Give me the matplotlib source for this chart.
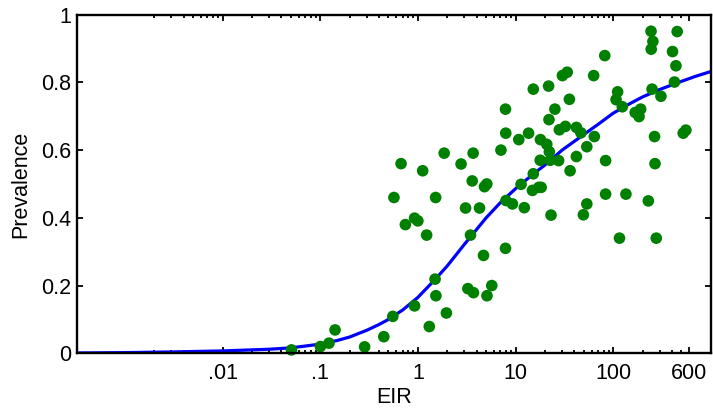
import numpy as np
import matplotlib
matplotlib.use("Agg")
import matplotlib.pyplot as plt

plt.rcParams.update({
    "font.family": ["Liberation Sans", "DejaVu Sans"],
    "font.size": 15.5,
})

# Field survey sites: annual EIR and parasite prevalence
eir = [
    0.0508, 0.1005, 0.123, 0.142, 0.285, 0.448, 0.554, 0.925, 1.31, 1.96,
    1.50, 1.53, 3.25, 3.71, 5.71, 5.10, 3.46, 4.70, 7.89, 1.23,
    0.925, 1.00, 0.745, 0.569, 1.52, 0.673, 1.12, 1.86, 2.77, 3.68,
    3.60, 5.08, 4.81, 3.08, 4.28, 7.09, 7.94, 7.89, 10.8, 13.6,
    11.4, 7.98, 9.30, 12.3, 15.2, 14.9, 17.3, 18.0, 20.9, 17.9,
    22.2, 22.6, 27.6, 36.2, 42.0, 18.3, 23.1, 15.2, 21.8, 22.0,
    25.3, 30.2, 33.8, 35.6, 28.1, 32.4, 42.0, 46.7, 53.7, 64.1,
    63.1, 82.0, 53.7, 49.5, 83.6, 83.6, 135, 229, 116, 276,
    268, 265, 111, 107, 124, 168, 191, 184, 244, 255,
    245, 250, 308, 452, 405, 439, 424, 555, 521,
]
prevalence = [
    0.010, 0.020, 0.030, 0.069, 0.019, 0.049, 0.109, 0.140, 0.079, 0.119,
    0.219, 0.170, 0.191, 0.179, 0.200, 0.170, 0.349, 0.289, 0.310, 0.349,
    0.399, 0.391, 0.380, 0.460, 0.460, 0.560, 0.539, 0.591, 0.559, 0.591,
    0.509, 0.500, 0.492, 0.429, 0.429, 0.600, 0.650, 0.721, 0.631, 0.650,
    0.499, 0.451, 0.441, 0.430, 0.530, 0.481, 0.490, 0.631, 0.617, 0.570,
    0.595, 0.570, 0.569, 0.539, 0.581, 0.490, 0.408, 0.780, 0.789, 0.690,
    0.721, 0.820, 0.830, 0.750, 0.660, 0.670, 0.667, 0.651, 0.610, 0.640,
    0.820, 0.879, 0.441, 0.409, 0.569, 0.470, 0.470, 0.450, 0.340, 0.340,
    0.560, 0.640, 0.772, 0.749, 0.728, 0.711, 0.721, 0.699, 0.951, 0.921,
    0.898, 0.780, 0.759, 0.950, 0.891, 0.849, 0.801, 0.659, 0.650,
]

# Fitted prevalence-EIR relationship
fit_eir = [
    3.2e-4, 1e-3, 3e-3, 0.01, 0.03, 0.05, 0.1, 0.15, 0.2, 0.3,
    0.4, 0.5, 0.7, 1.0, 1.5, 2.0, 3.0, 5.0, 7.0, 10.0,
    15.0, 20.0, 30.0, 50.0, 70.0, 100.0, 150.0, 200.0, 300.0, 500.0,
    700.0, 1000.0,
]
fit_prev = [
    0.001, 0.002, 0.004, 0.007, 0.012, 0.016, 0.027, 0.038, 0.048, 0.068,
    0.085, 0.100, 0.128, 0.165, 0.218, 0.258, 0.322, 0.400, 0.445, 0.486,
    0.528, 0.556, 0.600, 0.646, 0.676, 0.709, 0.738, 0.757, 0.779, 0.803,
    0.818, 0.832,
]

xticks = [0.01, 0.1, 1, 10, 100, 600]
xticklabels = [".01", ".1", "1", "10", "100", "600"]
yticks = [0, 0.2, 0.4, 0.6, 0.8, 1]
yticklabels = ["0", "0.2", "0.4", "0.6", "0.8", "1"]

fig = plt.figure(figsize=(7.13, 4.11), dpi=100)
ax = fig.add_axes([0.108, 0.1404, 0.889, 0.824])

ax.plot(fit_eir, fit_prev, color="#0000ff", lw=2.3, zorder=2)
ax.scatter(eir, prevalence, s=70, color="#008000", edgecolors="none",
           zorder=3, clip_on=False)

ax.set_xscale("log")
ax.set_xlim(10 ** -3.49, 1000)
ax.set_ylim(0, 1)

minor = [m * 10.0 ** k for k in range(-3, 3) for m in range(2, 10)]
minor = [v for v in minor if v < 600]
ax.set_xticks(xticks)
ax.set_xticklabels(xticklabels)
ax.set_xticks(minor, minor=True)
ax.set_yticks(yticks)
ax.set_yticklabels(yticklabels)

ax.tick_params(axis="both", which="both", direction="in",
               top=True, right=True, width=1.3)
ax.tick_params(axis="both", which="major", length=4)
ax.tick_params(axis="x", which="minor", length=2.5)
ax.tick_params(axis="x", which="major", pad=7)
ax.tick_params(axis="y", which="major", pad=4)

for sp in ax.spines.values():
    sp.set_linewidth(1.7)
    sp.set_zorder(4)

ax.set_xlabel("EIR", labelpad=2)
ax.set_ylabel("Prevalence", labelpad=7)

fig.savefig("out.png", dpi=100)
